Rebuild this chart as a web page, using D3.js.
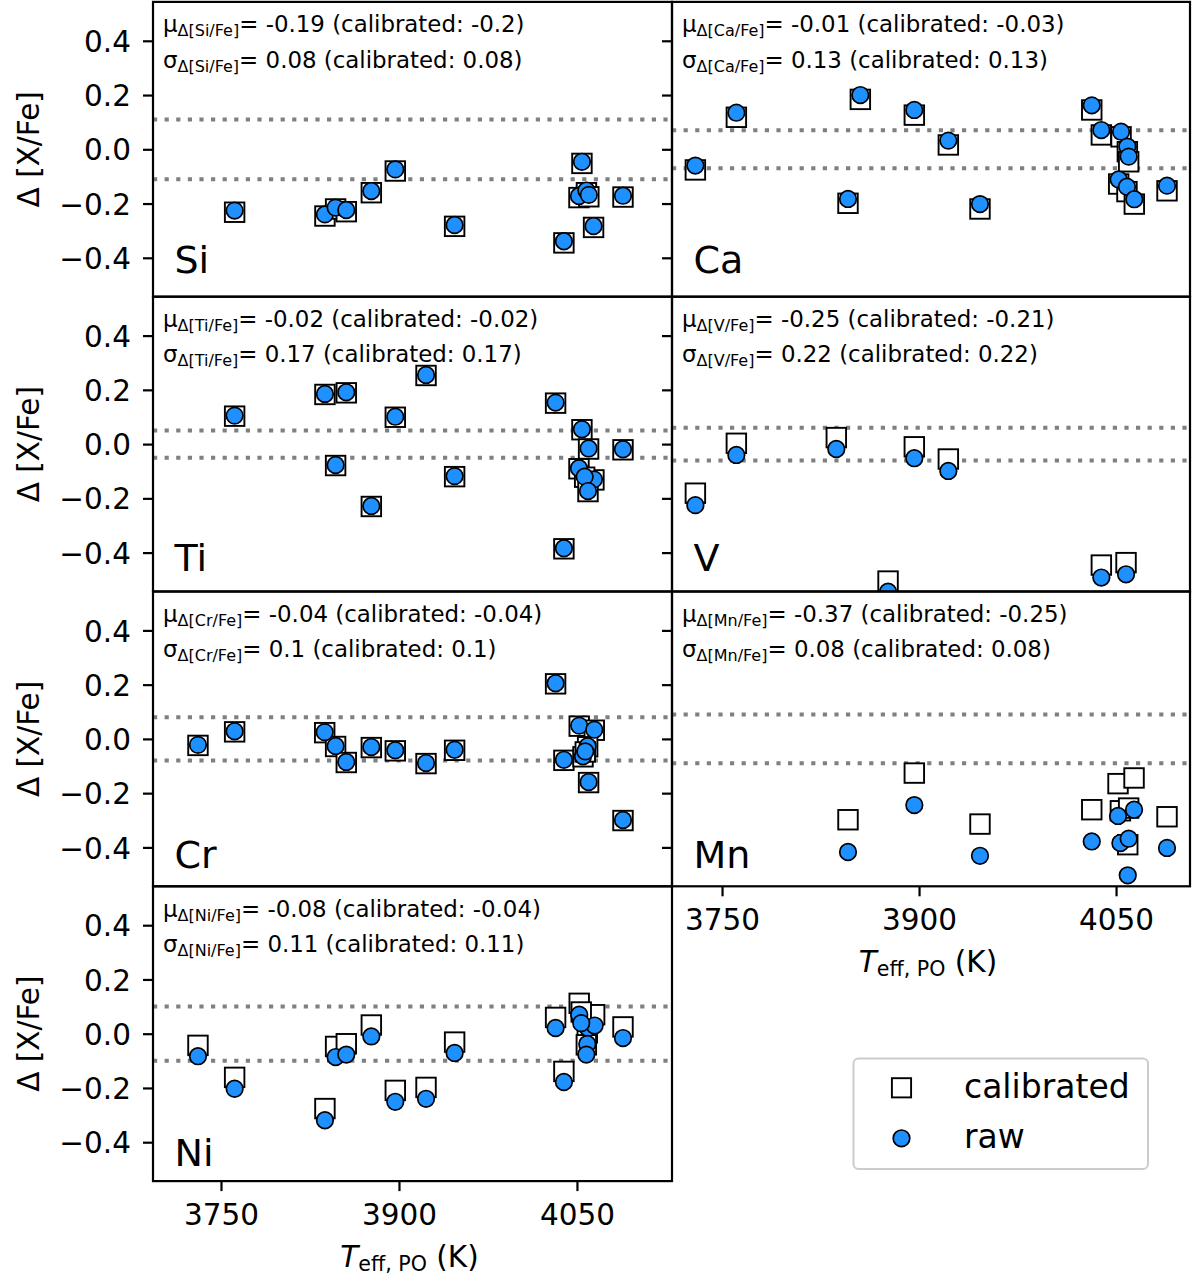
<!DOCTYPE html>
<html><head><meta charset="utf-8">
<script src="https://cdn.jsdelivr.net/npm/d3@7"></script>
<style>body{margin:0;background:#fff} svg{display:block} text{font-family:"DejaVu Sans",sans-serif;fill:#000}</style>
</head><body><svg id="c" width="1198" height="1281"></svg>
<script>
// Each row: [Teff (K), raw Δ[X/Fe], calibrated Δ[X/Fe]]
const siData = [
  [3761.5,-0.226,-0.232],[3837.6,-0.240,-0.246],[3846.6,-0.215,-0.220],[3855.6,-0.224,-0.230],
  [3876.7,-0.154,-0.160],[3896.9,-0.074,-0.080],[3946.9,-0.279,-0.284],[4039.0,-0.339,-0.345],
  [4054.2,-0.046,-0.052],[4051.7,-0.172,-0.178],[4058.0,-0.152,-0.160],[4060.0,-0.168,-0.175],
  [4064.0,-0.283,-0.288],[4088.8,-0.171,-0.176]
];
const caData = [
  [3729.7,-0.060,-0.076],[3760.9,0.135,0.118],[3845.9,-0.183,-0.199],[3855.3,0.200,0.184],
  [3896.4,0.145,0.126],[3922.3,0.032,0.016],[3946.4,-0.202,-0.220],[4031.5,0.162,0.145],
  [4038.8,0.071,0.053],[4053.8,0.065,0.046],[4058.6,0.010,-0.009],[4059.6,-0.027,-0.046],
  [4052.0,-0.111,-0.128],[4058.3,-0.138,-0.156],[4063.9,-0.184,-0.202],[4088.8,-0.134,-0.153]
];
const tiData = [
  [3761.5,0.105,0.103],[3837.6,0.185,0.183],[3855.6,0.191,0.189],[3846.6,-0.077,-0.079],
  [3876.7,-0.228,-0.230],[3896.9,0.101,0.099],[3922.8,0.255,0.253],[3946.9,-0.118,-0.120],
  [4032.0,0.153,0.151],[4054.2,0.055,0.053],[4059.8,-0.016,-0.018],[4088.8,-0.019,-0.021],
  [4051.7,-0.089,-0.091],[4064.3,-0.130,-0.132],[4056.5,-0.120,-0.122],[4059.3,-0.173,-0.175],
  [4039.0,-0.384,-0.386]
];
const vData = [
  [3729.7,-0.225,-0.181],[3760.9,-0.040,0.003],[3837.0,-0.018,0.024],[3896.4,-0.052,-0.010],
  [3922.3,-0.099,-0.055],[3876.4,-0.544,-0.505],[4038.8,-0.492,-0.446],[4057.6,-0.480,-0.437]
];
const crData = [
  [3730.6,-0.022,-0.024],[3761.5,0.028,0.026],[3837.4,0.025,0.023],[3846.6,-0.026,-0.028],
  [3855.6,-0.085,-0.087],[3876.7,-0.030,-0.032],[3896.9,-0.042,-0.044],[3922.8,-0.089,-0.091],
  [3946.9,-0.040,-0.042],[4032.0,0.205,0.203],[4039.0,-0.077,-0.079],[4051.9,0.049,0.047],
  [4064.6,0.034,0.032],[4059.0,-0.027,-0.029],[4055.1,-0.064,-0.066],[4057.0,-0.046,-0.048],
  [4059.8,-0.159,-0.161],[4088.8,-0.299,-0.301]
];
const mnData = [
  [3845.9,-0.417,-0.298],[3896.4,-0.244,-0.126],[3946.4,-0.431,-0.314],[4031.5,-0.378,-0.261],
  [4051.5,-0.284,-0.165],[4063.7,-0.261,-0.144],[4053.3,-0.384,-0.265],[4059.6,-0.368,-0.255],
  [4058.9,-0.503,-0.390],[4088.8,-0.402,-0.287]
];
const niData = [
  [3730.6,-0.083,-0.043],[3761.5,-0.203,-0.161],[3837.6,-0.319,-0.276],[3846.6,-0.086,-0.047],
  [3855.6,-0.077,-0.037],[3876.7,-0.010,0.032],[3896.9,-0.251,-0.209],[3922.8,-0.240,-0.198],
  [3946.9,-0.071,-0.031],[4032.0,0.021,0.060],[4039.0,-0.178,-0.139],[4051.9,0.070,0.112],
  [4059.3,0.021,0.064],[4064.9,0.030,0.070],[4053.6,0.039,0.080],[4058.7,-0.038,0.003],
  [4057.9,-0.077,-0.041],[4088.8,-0.016,0.025]
];

const elements = ["Si","Ca","Ti","V","Cr","Mn","Ni"];
const panelData = [siData, caData, tiData, vData, crData, mnData, niData];
const muRaw  = ["-0.19","-0.01","-0.02","-0.25","-0.04","-0.37","-0.08"];
const muCal  = ["-0.2","-0.03","-0.02","-0.21","-0.04","-0.25","-0.04"];
const sigRaw = ["0.08","0.13","0.17","0.22","0.1","0.08","0.11"];
const sigCal = ["0.08","0.13","0.17","0.22","0.1","0.08","0.11"];
const bandHalf = [0.11, 0.07, 0.05, 0.06, 0.08, 0.09, 0.10];
const yTicks = [-0.4, -0.2, 0.0, 0.2, 0.4];
const xTicks = [3750, 3900, 4050];
const legendLabels = ["calibrated", "raw"];

// layout
const svg = d3.select("#c");
const top0 = 1.9, H = 294.8;
const colX = [153, 672], colW = [519, 518];
const xDomains = [[3692.7, 4130.1], [3711.9, 4106.3]];
const yScale = d3.scaleLinear().domain([-0.5434, 0.5434]).range([H, 0]);
const blue = "#1E90FF";
const fmtY = d3.format(".1f");

const defs = svg.append("defs");

panelData.forEach((data, i) => {
  const row = Math.floor(i / 2), col = i % 2;
  const w = colW[col];
  const x = d3.scaleLinear().domain(xDomains[col]).range([0, w]);
  const g = svg.append("g").attr("transform", `translate(${colX[col]},${top0 + row * H})`);
  defs.append("clipPath").attr("id", "clip" + i)
    .append("rect").attr("x", 0).attr("y", 0).attr("width", w).attr("height", H);
  const plot = g.append("g").attr("clip-path", `url(#clip${i})`);

  // dotted bands
  plot.selectAll("line.band").data([bandHalf[i], -bandHalf[i]]).join("line")
    .attr("x1", 0).attr("x2", w)
    .attr("y1", d => yScale(d)).attr("y2", d => yScale(d))
    .attr("stroke", "#808080").attr("stroke-width", 4).attr("stroke-dasharray", "4.2 7.4");

  // calibrated squares
  const s = 19.5;
  plot.selectAll("rect.cal").data(data).join("rect")
    .attr("x", d => x(d[0]) - s / 2).attr("y", d => yScale(d[2]) - s / 2)
    .attr("width", s).attr("height", s)
    .attr("fill", "#fff").attr("stroke", "#000").attr("stroke-width", 1.9);

  // raw circles
  plot.selectAll("circle.raw").data(data).join("circle")
    .attr("cx", d => x(d[0])).attr("cy", d => yScale(d[1])).attr("r", 8.3)
    .attr("fill", blue).attr("stroke", "#000").attr("stroke-width", 1.7);

  // annotations
  const el = elements[i];
  const t1 = g.append("text").attr("x", 10).attr("y", 30.5).attr("font-size", 22.9);
  t1.append("tspan").text("μ");
  t1.append("tspan").attr("font-size", 16).attr("dy", 4).text(`Δ[${el}/Fe]`);
  t1.append("tspan").attr("dy", -4).text(`= ${muRaw[i]} (calibrated: ${muCal[i]})`);
  const t2 = g.append("text").attr("x", 10).attr("y", 65.8).attr("font-size", 22.9);
  t2.append("tspan").text("σ");
  t2.append("tspan").attr("font-size", 16).attr("dy", 4).text(`Δ[${el}/Fe]`);
  t2.append("tspan").attr("dy", -4).text(`= ${sigRaw[i]} (calibrated: ${sigCal[i]})`);

  // y axis
  const ya = g.append("g").call(
    d3.axisLeft(yScale).tickValues(yTicks).tickSize(10).tickPadding(12)
      .tickFormat(col === 0 ? (d => fmtY(d)) : (() => ""))
  );
  ya.select(".domain").remove();
  ya.selectAll(".tick line").attr("stroke-width", 2.2);
  ya.selectAll(".tick text").attr("font-size", 29.5).attr("font-family", "DejaVu Sans").attr("dy", "0.36em");

  if (col === 0) {
    g.append("text").attr("transform", `translate(${-114},${H / 2}) rotate(-90)`)
      .attr("text-anchor", "middle").attr("font-size", 29.5).text("Δ [X/Fe]");
  }

  // x axis on bottom panels of each column
  if (i === 5 || i === 6) {
    const xa = g.append("g").attr("transform", `translate(0,${H})`).call(
      d3.axisBottom(x).tickValues(xTicks).tickSize(10).tickPadding(13).tickFormat(d3.format("d"))
    );
    xa.select(".domain").remove();
    xa.selectAll(".tick line").attr("stroke-width", 2.2);
    xa.selectAll(".tick text").attr("font-size", 29.5).attr("font-family", "DejaVu Sans").attr("dy", "0.71em");
    const xl = g.append("text").attr("x", w / 2 - 3).attr("y", H + 86).attr("text-anchor", "middle").attr("font-size", 29.5);
    xl.append("tspan").attr("font-style", "italic").text("T");
    xl.append("tspan").attr("font-size", 20.6).attr("dy", 4).text("eff, PO");
    xl.append("tspan").attr("dy", -4).text(" (K)");
  }

  // frame
  g.append("rect").attr("x", 0).attr("y", 0).attr("width", w).attr("height", H)
    .attr("fill", "none").attr("stroke", "#000").attr("stroke-width", 2.2);
});

// element labels (evenly spaced rows)
elements.forEach((el, i) => {
  const row = Math.floor(i / 2), col = i % 2;
  svg.append("text").attr("x", colX[col] + 21.5).attr("y", 273.3 + row * 297.5)
    .attr("font-size", 38).text(el);
});

// legend
const lg = svg.append("g").attr("transform", "translate(853.5,1058.5)");
lg.append("rect").attr("width", 294.5).attr("height", 110.5).attr("rx", 5).attr("ry", 5)
  .attr("fill", "#fff").attr("stroke", "#cccccc").attr("stroke-width", 2);
lg.append("rect").attr("x", 48 - 9.6).attr("y", 29.3 - 9.6).attr("width", 19.2).attr("height", 19.2)
  .attr("fill", "#fff").attr("stroke", "#000").attr("stroke-width", 1.9);
lg.append("circle").attr("cx", 48).attr("cy", 79.8).attr("r", 8.3)
  .attr("fill", blue).attr("stroke", "#000").attr("stroke-width", 1.7);
legendLabels.forEach((lab, k) => {
  lg.append("text").attr("x", 110.5).attr("y", 39.8 + k * 50).attr("font-size", 33).text(lab);
});
</script>
</body></html>
